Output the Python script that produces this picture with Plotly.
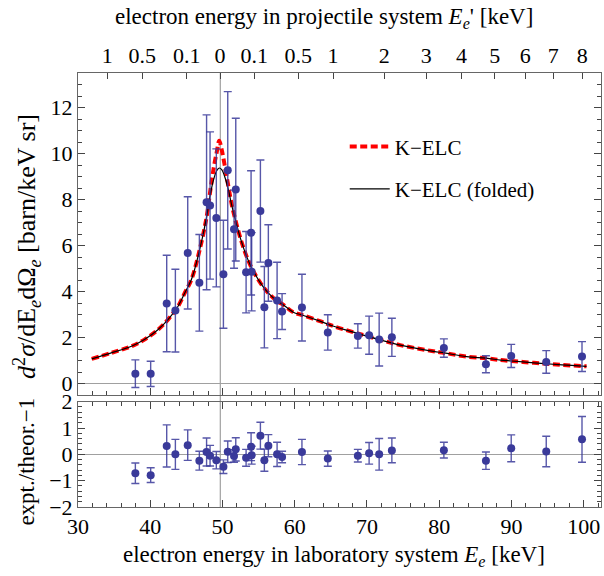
import plotly.graph_objects as go

# ---------------- data ----------------
# measured points (laboratory electron energy, keV)
E_LAB = [37.94, 40.06, 42.28, 43.48, 45.19, 46.80, 47.80, 48.28, 49.15, 50.13,
         50.73, 51.60, 51.84, 53.27, 53.96, 54.04, 55.25, 55.80, 56.35, 57.56,
         58.25, 61.00, 64.58, 68.74, 70.30, 71.69, 73.45, 80.65, 86.47, 89.97,
         94.82, 99.77]
CS = [0.43, 0.42, 3.48, 3.17, 5.68, 4.38, 7.88, 7.74, 7.20, 4.75,
      9.27, 6.71, 8.43, 4.84, 6.55, 4.86, 7.50, 3.32, 5.24, 3.61,
      3.13, 3.30, 2.22, 2.07, 2.10, 1.91, 2.01, 1.54, 0.84, 1.20,
      0.94, 1.17]
CS_ERR = [0.60, 0.55, 2.10, 1.80, 2.44, 2.10, 3.80, 3.20, 3.00, 2.35,
          3.42, 1.70, 3.10, 1.77, 2.70, 1.70, 2.22, 1.77, 1.66, 1.66,
          0.78, 1.45, 0.77, 0.53, 0.83, 1.15, 0.83, 0.40, 0.37, 0.50,
          0.49, 0.65]
RES = [-0.72, -0.79, 0.32, 0.00, 0.35, -0.24, 0.09, -0.05, -0.22, -0.47,
       0.10, -0.06, 0.19, -0.13, 0.29, -0.03, 0.71, -0.22, 0.33, 0.00,
       -0.10, 0.09, -0.16, -0.05, 0.04, 0.00, 0.15, 0.16, -0.24, 0.23,
       0.11, 0.57]
RES_ERR = [0.39, 0.28, 0.80, 0.57, 0.58, 0.36, 0.53, 0.39, 0.33, 0.26,
           0.41, 0.24, 0.44, 0.32, 0.53, 0.34, 0.51, 0.42, 0.42, 0.46,
           0.22, 0.48, 0.29, 0.24, 0.41, 0.60, 0.47, 0.30, 0.33, 0.51,
           0.58, 0.87]

# theory curves
THEO_E = [31.9, 34.6, 37.4, 39.2, 41.1, 42.46, 43.85, 44.78, 45.7, 46.8,
          47.8, 48.3, 48.8, 49.2, 49.55, 49.9, 50.3, 50.8, 51.3, 51.8,
          52.5, 53.3, 54.0, 55.2, 56.3, 57.5, 58.3, 59.8, 61.0, 63.5,
          65.4, 68.7, 70.0, 71.7, 74.6, 79.2, 80.7, 83.8, 86.5, 88.5,
          90.0, 93.1, 94.8, 97.0, 100.4]
K_ELC = [1.07, 1.33, 1.62, 1.91, 2.35, 2.78, 3.36, 3.94, 4.52, 5.76,
         7.23, 8.35, 9.40, 10.05, 10.55, 10.15, 9.50, 8.60, 7.75, 7.10,
         6.30, 5.56, 5.05, 4.40, 3.95, 3.60, 3.45, 3.10, 2.98, 2.71,
         2.49, 2.18, 2.06, 1.91, 1.67, 1.40, 1.33, 1.17, 1.10, 1.02,
         0.98, 0.90, 0.86, 0.81, 0.75]
K_ELC_FOLD = [1.07, 1.33, 1.62, 1.91, 2.35, 2.78, 3.36, 3.94, 4.52, 5.76,
              7.23, 8.20, 8.90, 9.25, 9.37, 9.30, 9.00, 8.45, 7.72, 7.10,
              6.30, 5.56, 5.05, 4.40, 3.95, 3.60, 3.45, 3.10, 2.98, 2.71,
              2.49, 2.18, 2.06, 1.91, 1.67, 1.40, 1.33, 1.17, 1.10, 1.02,
              0.98, 0.90, 0.86, 0.81, 0.75]

CUSP_E = 49.7

# top axis: projectile-frame energy ticks (position in lab energy, label)
TOP_E = [34.06, 38.9, 45.06, 49.67, 54.4, 60.5, 65.3, 72.4, 78.2, 83.1,
         87.7, 91.9, 95.8, 99.8]
TOP_LBL = ["1", "0.5", "0.1", "0", "0.1", "0.5", "1", "2", "3", "4",
           "5", "6", "7", "8"]

X_RANGE = [30, 102.4]
Y_RANGE = [-0.5, 13.5]
R_RANGE = [-2, 2]

# ---------------- figure ----------------
FONT = "Liberation Serif"
PT = "#3a3a9a"
ERR = "rgba(58,58,154,0.85)"
AX = "#444444"
FRAME = "#666666"

fig = go.Figure()

fig.add_trace(go.Scatter(
    x=THEO_E, y=K_ELC, mode="lines", name="K\u2212ELC",
    line=dict(color="#ff0000", width=4, dash="7px,3.5px", shape="spline"),
    xaxis="x2", yaxis="y", legendgroup="a", hoverinfo="skip"))
fig.add_trace(go.Scatter(
    x=THEO_E, y=K_ELC_FOLD, mode="lines", name="K\u2212ELC (folded)",
    line=dict(color="black", width=1.2, shape="spline"),
    xaxis="x2", yaxis="y", legendgroup="b", hoverinfo="skip"))
fig.add_trace(go.Scatter(
    x=E_LAB, y=CS, mode="markers", showlegend=False,
    marker=dict(color=PT, size=8),
    error_y=dict(type="data", array=CS_ERR, color=ERR, thickness=1.4, width=4),
    xaxis="x2", yaxis="y"))
fig.add_trace(go.Scatter(
    x=E_LAB, y=RES, mode="markers", showlegend=False,
    marker=dict(color=PT, size=8),
    error_y=dict(type="data", array=RES_ERR, color=ERR, thickness=1.4, width=4),
    xaxis="x", yaxis="y2"))
# invisible trace carrying the top axis
fig.add_trace(go.Scatter(
    x=TOP_E, y=[None] * len(TOP_E), mode="markers", showlegend=False,
    hoverinfo="skip", xaxis="x3", yaxis="y"))

fig.add_shape(type="line", xref="x", yref="paper", x0=CUSP_E, x1=CUSP_E,
              y0=0, y1=1, line=dict(color="#a0a0a0", width=1.2), layer="below")

TICK_SIZE = 22
TITLE_SIZE = 23
tickfont = dict(family=FONT, size=TICK_SIZE, color="black")
common_x = dict(range=X_RANGE, showline=True, linecolor=FRAME, linewidth=1,
                ticks="inside", tickcolor=AX, showgrid=False, zeroline=False,
                tickfont=tickfont)

fig.update_layout(
    width=604, height=576,
    margin=dict(l=78, r=3, t=73, b=69),
    paper_bgcolor="white", plot_bgcolor="white",
    font=dict(family=FONT, size=TICK_SIZE, color="black"),
    xaxis=dict(**common_x, anchor="y2", domain=[0, 1], tickmode="linear",
               tick0=30, dtick=10, ticklen=7, mirror="ticks",
               minor=dict(dtick=2, ticklen=4, ticks="inside", tickcolor=AX)),
    xaxis2=dict(**common_x, anchor="y", domain=[0, 1], tickmode="linear",
                tick0=30, dtick=10, ticklen=7, showticklabels=False,
                minor=dict(dtick=2, ticklen=4, ticks="inside", tickcolor=AX)),
    xaxis3=dict(**common_x, anchor="y", overlaying="x2", side="top",
                tickmode="array", tickvals=TOP_E, ticktext=TOP_LBL, ticklen=6),
    yaxis=dict(domain=[0.258, 1], anchor="x2", range=Y_RANGE, tickmode="linear",
               tick0=0, dtick=2, ticks="inside", ticklen=7, tickcolor=AX,
               showline=True, linecolor=FRAME, mirror="ticks", showgrid=False,
               zeroline=True, zerolinecolor="#a0a0a0", zerolinewidth=1.2,
               tickfont=tickfont,
               minor=dict(dtick=0.5, ticklen=4, ticks="inside", tickcolor=AX)),
    yaxis2=dict(domain=[0, 0.2426], anchor="x", range=R_RANGE, tickmode="linear",
                tick0=-2, dtick=1, ticks="inside", ticklen=7, tickcolor=AX,
                showline=True, linecolor=FRAME, mirror="ticks", showgrid=False,
                zeroline=True, zerolinecolor="#a0a0a0", zerolinewidth=1.2,
                tickfont=tickfont,
                minor=dict(dtick=0.2, ticklen=4, ticks="inside", tickcolor=AX)),
    legend=dict(x=0.51, y=0.877, xanchor="left", yanchor="top",
                bgcolor="rgba(0,0,0,0)", font=dict(family=FONT, size=21),
                tracegroupgap=12, itemwidth=40),
    annotations=[
        dict(text="electron energy in laboratory system <i>E<sub>e</sub></i> [keV]",
             xref="paper", yref="paper", x=0.49, y=-0.113, showarrow=False,
             font=dict(family=FONT, size=TITLE_SIZE), xanchor="center", yanchor="middle"),
        dict(text="electron energy in projectile system <i>E<sub>e</sub></i>' [keV]",
             xref="paper", yref="paper", x=0.47, y=1.127, showarrow=False,
             font=dict(family=FONT, size=TITLE_SIZE), xanchor="center", yanchor="middle"),
        dict(text="<i>d</i><sup>2</sup><i>\u03c3</i>/dE<sub><i>e</i></sub>d\u03a9<sub><i>e</i></sub> [barn/keV sr]",
             xref="paper", yref="paper", x=-0.098, y=0.601, showarrow=False,
             textangle=-90, font=dict(family=FONT, size=26),
             xanchor="center", yanchor="middle"),
        dict(text="expt./theor.\u22121",
             xref="paper", yref="paper", x=-0.098, y=0.104, showarrow=False,
             textangle=-90, font=dict(family=FONT, size=TITLE_SIZE),
             xanchor="center", yanchor="middle"),
    ],
)

fig.write_html("out.html")
